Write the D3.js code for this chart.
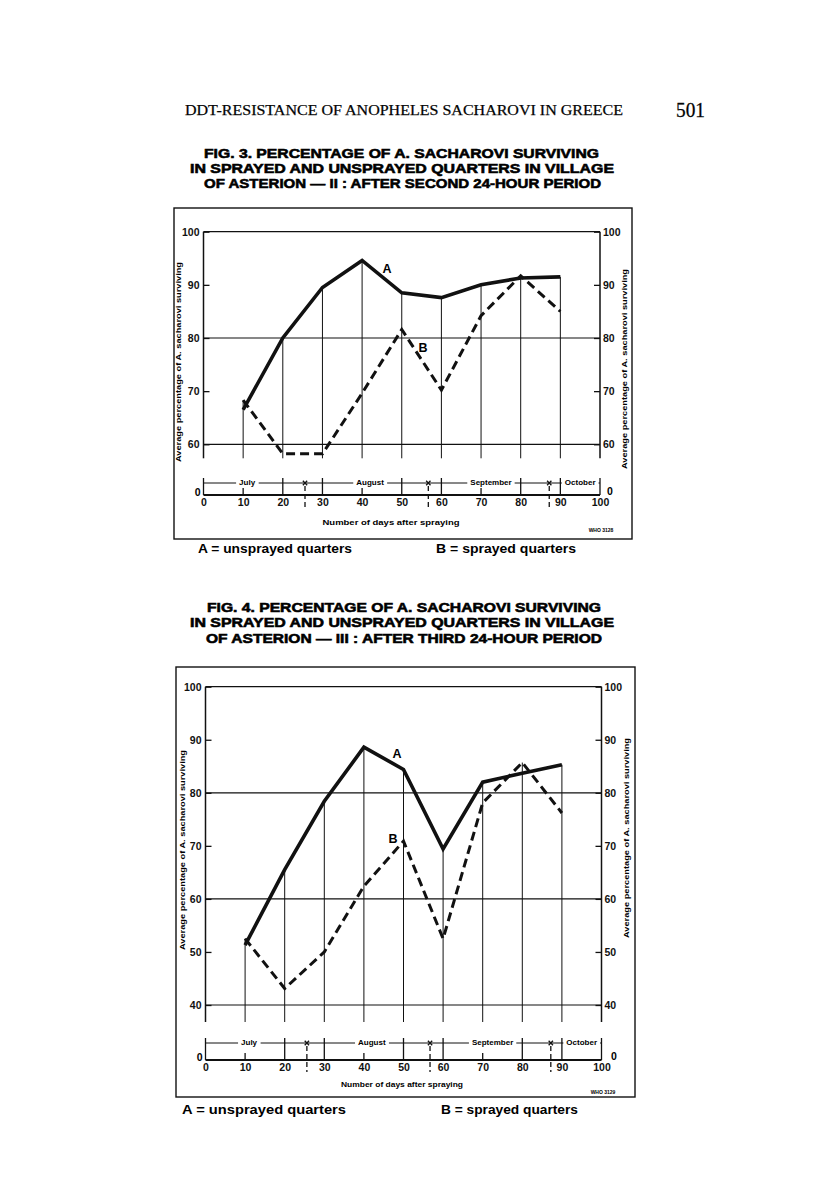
<!DOCTYPE html>
<html>
<head>
<meta charset="utf-8">
<script src="https://cdn.jsdelivr.net/npm/d3@7"></script>
<style>
  body { margin: 0; background: #fff; }
  svg { display: block; }
</style>
</head>
<body>
<svg id="page" width="816" height="1201"></svg>
<script>
// days after spraying at which catches were made
const days = [10, 20, 30, 40, 50, 60, 70, 80, 90];

// Fig. 3 - after second 24-hour period
const fig3Unsprayed = [66.5, 80, 89.5, 94.6, 88.5, 87.6, 90, 91.3, 91.5];
const fig3Sprayed = [68.3, 58.2, 58.2, 69.6, 81.6, 70.2, 84.2, 91.7, 85];

// Fig. 4 - after third 24-hour period
const fig4Unsprayed = [51.3, 65.5, 78.4, 88.6, 84.4, 69.4, 82, 83.7, 85.3];
const fig4Sprayed = [52.5, 43.1, 50, 62.4, 70.9, 52.5, 78.1, 85.7, 76.2];

const fig3YTicks = [60, 70, 80, 90, 100];
const fig3YGrid = [60, 80, 100];
const fig4YTicks = [40, 50, 60, 70, 80, 90, 100];
const fig4YGrid = [40, 60, 80, 100];

const dayTicks = [0, 10, 20, 30, 40, 50, 60, 70, 80, 90, 100];
const longTicks = [0, 20, 30, 50, 60, 80, 90, 100];
const shortTicks = [10, 40, 70];
const monthNames = ["July", "August", "September", "October"];
const monthLabelDays = [11, 42, 72.5, 95];
const monthEnds = [25.6, 56.7, 87.2];

const svg = d3.select('#page')
const SANS = "'Liberation Sans', Arial, sans-serif"
const SERIF = "'Liberation Serif', 'Times New Roman', serif"
const yTitle = "Average percentage of A. sacharovi surviving"

// running head
svg.append('text')
    .attr('x', 185).attr('y', 115)
    .attr('font-family', SERIF).attr('font-size', 14.5)
    .attr('stroke', '#111').attr('stroke-width', 0.25)
    .attr('textLength', 438).attr('lengthAdjust', 'spacingAndGlyphs')
    .text('DDT-RESISTANCE OF ANOPHELES SACHAROVI IN GREECE')
svg.append('text')
    .attr('x', 676).attr('y', 117)
    .attr('font-family', SERIF).attr('font-size', 20)
    .attr('stroke', '#111').attr('stroke-width', 0.3)
    .attr('textLength', 29).attr('lengthAdjust', 'spacingAndGlyphs')
    .text('501')

function drawFigure(cfg) {
    let g = svg.append('g')

    // title lines
    cfg.title.forEach((t) => {
        g.append('text')
            .attr('x', t.x).attr('y', t.y)
            .attr('font-family', SANS).attr('font-weight', 'bold').attr('font-size', 13.5)
            .attr('stroke', '#000').attr('stroke-width', 0.6)
            .attr('textLength', t.w).attr('lengthAdjust', 'spacingAndGlyphs')
            .text(t.text)
    })

    // frame
    g.append('rect')
        .attr('x', cfg.frame[0]).attr('y', cfg.frame[1])
        .attr('width', cfg.frame[2]).attr('height', cfg.frame[3])
        .attr('fill', 'none').attr('stroke', '#111').attr('stroke-width', 1.4)

    let xScale = d3.scaleLinear().domain([0, 100]).range([cfg.left, cfg.right])
    let yScale = d3.scaleLinear().domain([cfg.ymin, 100]).range([cfg.bottom, cfg.top])
    let axisEnd = cfg.bottom + cfg.ext

    // grid lines
    g.append('g').selectAll('line')
        .data(cfg.grid)
        .join('line')
        .attr('x1', xScale(0)).attr('x2', xScale(100))
        .attr('y1', d => yScale(d)).attr('y2', d => yScale(d))
        .attr('stroke', '#111').attr('stroke-width', 1.2)

    // left and right y axes
    let leftAxis = d3.axisLeft(yScale).tickValues(cfg.yTicks).tickSize(-6).tickPadding(4)
    let rightAxis = d3.axisRight(yScale).tickValues(cfg.yTicks).tickSize(-6).tickPadding(3)
    let la = g.append('g').attr('transform', `translate(${xScale(0)},0)`).call(leftAxis)
    let ra = g.append('g').attr('transform', `translate(${xScale(100)},0)`).call(rightAxis)
    for (let a of [la, ra]) {
        a.select('.domain').remove()
        a.attr('font-family', SANS).attr('font-size', 10.5).attr('font-weight', 'bold')
        a.selectAll('line').attr('stroke', '#111').attr('stroke-width', 1.3)
        a.selectAll('text').attr('fill', '#111')
    }
    for (let d of [0, 100]) {
        g.append('line')
            .attr('x1', xScale(d)).attr('x2', xScale(d))
            .attr('y1', yScale(100)).attr('y2', axisEnd)
            .attr('stroke', '#111').attr('stroke-width', 1.5)
    }

    // y titles
    for (let t of cfg.yTitles) {
        g.append('text')
            .attr('transform', `translate(${t[0]},${t[1]}) rotate(-90)`)
            .attr('text-anchor', 'middle').attr('dominant-baseline', 'middle')
            .attr('font-family', SANS).attr('font-weight', 'bold').attr('font-size', 8)
            .attr('textLength', 200).attr('lengthAdjust', 'spacingAndGlyphs')
            .text(yTitle)
    }

    // vertical drop lines at each sampling day
    let top = days.map((d, i) => Math.max(cfg.a[i], cfg.b[i]))
    g.append('g').selectAll('line')
        .data(days)
        .join('line')
        .attr('x1', d => xScale(d)).attr('x2', d => xScale(d))
        .attr('y1', axisEnd).attr('y2', (d, i) => yScale(top[i]))
        .attr('stroke', '#111').attr('stroke-width', 1)

    let line = d3.line().x(d => xScale(d[0])).y(d => yScale(d[1]))
    g.append('path')
        .attr('d', line(d3.zip(days, cfg.b)))
        .attr('fill', 'none').attr('stroke', '#111').attr('stroke-width', 3)
        .attr('stroke-dasharray', '9,5')
    g.append('path')
        .attr('d', line(d3.zip(days, cfg.a)))
        .attr('fill', 'none').attr('stroke', '#111').attr('stroke-width', 3.6)
        .attr('stroke-linejoin', 'miter')

    // curve letters
    for (let l of cfg.letters) {
        g.append('text')
            .attr('x', l[1]).attr('y', l[2])
            .attr('text-anchor', 'middle').attr('dominant-baseline', 'middle')
            .attr('font-family', SANS).attr('font-weight', 'bold').attr('font-size', 12.5)
            .text(l[0])
    }

    // time axis with months
    let bY = cfg.baseY, kY = cfg.bracketY
    g.append('line')
        .attr('x1', xScale(0)).attr('x2', xScale(100))
        .attr('y1', kY).attr('y2', kY)
        .attr('stroke', '#111').attr('stroke-width', 1)
    g.append('line')
        .attr('x1', xScale(0)).attr('x2', xScale(100))
        .attr('y1', bY).attr('y2', bY)
        .attr('stroke', '#111').attr('stroke-width', 1.8)
    g.append('g').selectAll('line')
        .data(longTicks)
        .join('line')
        .attr('x1', d => xScale(d)).attr('x2', d => xScale(d))
        .attr('y1', kY - 5).attr('y2', bY)
        .attr('stroke', '#111').attr('stroke-width', 1.3)
    g.append('g').selectAll('line')
        .data(shortTicks)
        .join('line')
        .attr('x1', d => xScale(d)).attr('x2', d => xScale(d))
        .attr('y1', bY - 7).attr('y2', bY)
        .attr('stroke', '#111').attr('stroke-width', 1.3)

    let months = g.append('g').selectAll('g')
        .data(monthNames)
        .join('g')
        .attr('transform', (d, i) => `translate(${xScale(monthLabelDays[i])},${kY})`)
    months.append('text')
        .attr('text-anchor', 'middle').attr('dominant-baseline', 'middle')
        .attr('font-family', SANS).attr('font-weight', 'bold').attr('font-size', 8)
        .text(d => d)
    months.each(function () {
        let bb = this.querySelector('text').getBBox()
        d3.select(this).insert('rect', 'text')
            .attr('x', bb.x - 3).attr('y', -3)
            .attr('width', bb.width + 6).attr('height', 6)
            .attr('fill', '#fff')
    })

    g.append('g').selectAll('line')
        .data(monthEnds)
        .join('line')
        .attr('x1', d => xScale(d)).attr('x2', d => xScale(d))
        .attr('y1', kY + 3).attr('y2', bY + 12)
        .attr('stroke', '#111').attr('stroke-width', 1.3)
        .attr('stroke-dasharray', '5,3')
    g.append('g').selectAll('path')
        .data(monthEnds)
        .join('path')
        .attr('transform', d => `translate(${xScale(d)},${kY})`)
        .attr('d', d3.symbol(d3.symbolTimes, 14))
        .attr('fill', 'none').attr('stroke', '#111').attr('stroke-width', 1.3)

    let xAxis = d3.axisBottom(xScale).tickValues(dayTicks).tickSize(0).tickPadding(4)
    let xa = g.append('g').attr('transform', `translate(0,${bY})`).call(xAxis)
    xa.select('.domain').remove()
    xa.attr('font-family', SANS).attr('font-size', 10.5).attr('font-weight', 'bold')
    xa.selectAll('text').attr('fill', '#111')

    // zero labels at each end of the day line
    g.append('text')
        .attr('x', xScale(0) - 3).attr('y', bY - 2)
        .attr('text-anchor', 'end').attr('dominant-baseline', 'middle')
        .attr('font-family', SANS).attr('font-weight', 'bold').attr('font-size', 10.5)
        .text('0')
    g.append('text')
        .attr('x', cfg.rightZero[0]).attr('y', cfg.rightZero[1])
        .attr('text-anchor', 'middle').attr('dominant-baseline', 'middle')
        .attr('font-family', SANS).attr('font-weight', 'bold').attr('font-size', 10.5)
        .text('0')

    g.append('text')
        .attr('x', cfg.xTitle[0]).attr('y', cfg.xTitle[1])
        .attr('text-anchor', 'middle').attr('dominant-baseline', 'middle')
        .attr('font-family', SANS).attr('font-weight', 'bold').attr('font-size', 8)
        .attr('textLength', cfg.xTitle[2]).attr('lengthAdjust', 'spacingAndGlyphs')
        .text('Number of days after spraying')

    g.append('text')
        .attr('x', cfg.who[0]).attr('y', cfg.who[1])
        .attr('text-anchor', 'middle').attr('dominant-baseline', 'middle')
        .attr('font-family', SANS).attr('font-weight', 'bold').attr('font-size', 5)
        .text(cfg.who[2])

    // key below the frame
    for (let k of cfg.key) {
        g.append('text')
            .attr('x', k[1]).attr('y', k[2])
            .attr('font-family', SANS).attr('font-size', 13).attr('font-weight', 'bold')
            .attr('textLength', k[3]).attr('lengthAdjust', 'spacingAndGlyphs')
            .text(k[0])
    }
}

drawFigure({
    title: [
        {text: 'FIG. 3.  PERCENTAGE OF A. SACHAROVI SURVIVING', x: 204, y: 158, w: 395},
        {text: 'IN SPRAYED AND UNSPRAYED QUARTERS IN VILLAGE', x: 190, y: 173, w: 424},
        {text: 'OF ASTERION \u2014 II :  AFTER SECOND 24-HOUR PERIOD', x: 204, y: 188, w: 397}
    ],
    frame: [174, 208, 458, 331],
    left: 203.5, right: 600, top: 231.7, bottom: 444.3, ymin: 60, ext: 14,
    grid: fig3YGrid, yTicks: fig3YTicks,
    a: fig3Unsprayed, b: fig3Sprayed,
    yTitles: [[179, 362], [625, 369]],
    letters: [['A', 387, 270], ['B', 423, 349]],
    bracketY: 483, baseY: 495,
    rightZero: [610, 492],
    xTitle: [391, 523, 137],
    who: [601, 531, 'WHO 3128'],
    key: [['A  =  unsprayed quarters', 198, 553, 154], ['B  =  sprayed quarters', 436, 553, 140]]
})

drawFigure({
    title: [
        {text: 'FIG. 4.  PERCENTAGE OF A. SACHAROVI SURVIVING', x: 207, y: 612, w: 394},
        {text: 'IN SPRAYED AND UNSPRAYED QUARTERS IN VILLAGE', x: 190, y: 627, w: 424},
        {text: 'OF ASTERION \u2014 III :  AFTER THIRD 24-HOUR PERIOD', x: 206, y: 643, w: 396}
    ],
    frame: [176, 667, 459, 430],
    left: 205.5, right: 601.5, top: 686.7, bottom: 1005, ymin: 40, ext: 17,
    grid: fig4YGrid, yTicks: fig4YTicks,
    a: fig4Unsprayed, b: fig4Sprayed,
    yTitles: [[183, 850], [627, 838]],
    letters: [['A', 397, 755], ['B', 393, 840]],
    bracketY: 1043, baseY: 1060,
    rightZero: [614, 1057],
    xTitle: [402, 1085, 122],
    who: [603, 1093, 'WHO 3129'],
    key: [['A  =  unsprayed quarters', 182, 1114, 164], ['B  =  sprayed quarters', 441, 1114, 137]]
})
</script>
</body>
</html>
